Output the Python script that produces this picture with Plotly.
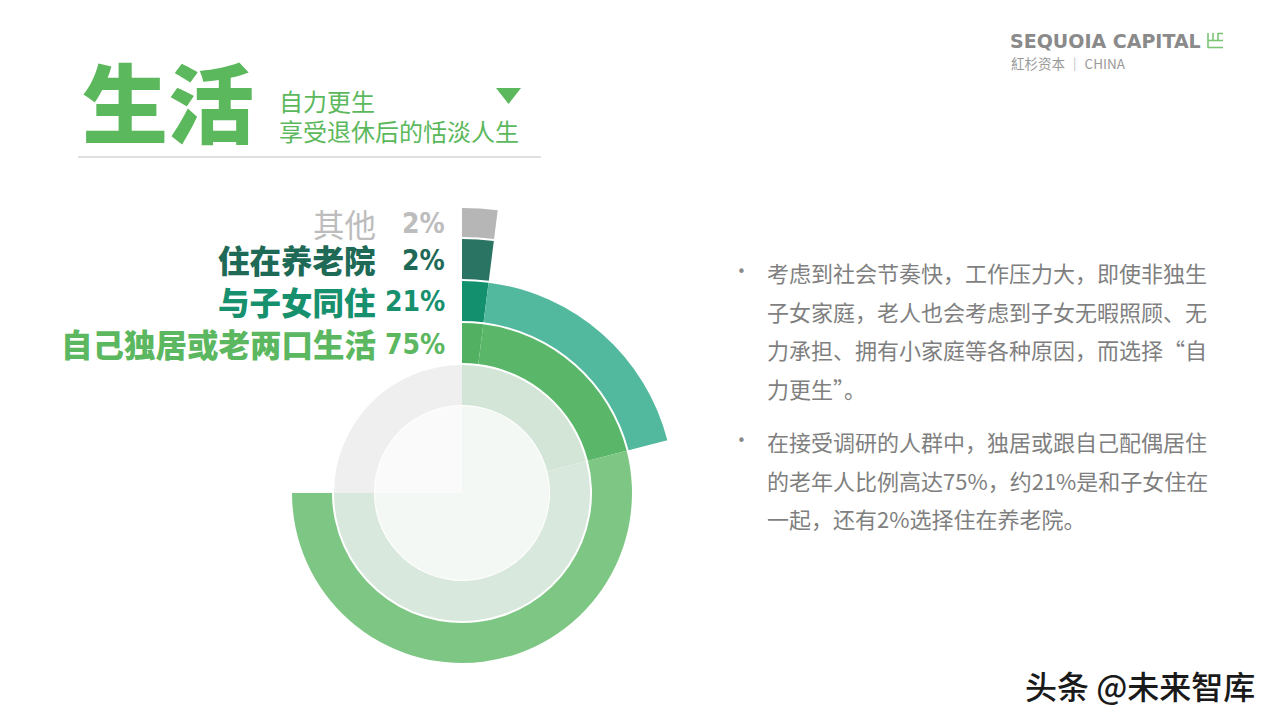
import subprocess
import plotly.graph_objects as go

# ---------------- data ----------------
categories = ["自己独居或老两口生活", "与子女同住", "住在养老院", "其他"]
values = [75, 21, 2, 2]
pct_labels = ["75%", "21%", "2%", "2%"]

title_text = "生活"
subtitle_lines = ["自力更生", "享受退休后的恬淡人生"]
para1 = ["考虑到社会节奏快，工作压力大，即使非独生",
         "子女家庭，老人也会考虑到子女无暇照顾、无",
         "力承担、拥有小家庭等各种原因，而选择“自",
         "力更生”。"]
para2 = ["在接受调研的人群中，独居或跟自己配偶居住",
         "的老年人比例高达75%，约21%是和子女住在",
         "一起，还有2%选择住在养老院。"]

# ---------------- style ----------------
W, H = 1280, 720
CX, CY = 462, 493          # chart centre in page px
R1 = 227                   # full-circle polar radius (px)
R2 = 290                   # quarter-sector polar radius (px)
ring_inner = [130, 172, 214, 256]
ring_outer = [170, 212, 254, 285]
seg_colors = [["#51b062", "#5ab76a", "#7dc683"],
              ["#13906e", "#52b89e"],
              ["#2a7464"],
              ["#b6b6b6"]]
label_colors = ["#5bb760", "#17906e", "#1e6a56", "#bdbdbd"]
inner_B = (88, 128)
inner_A = (0, 87)
B_colors = ["#d3e5d6", "#d9e8dc", "#efefef"]
A_colors = ["#f4f8f4", "#fafafa"]
GREEN = "#5cb85c"
CJK = "Noto Sans CJK SC"

try:
    fams = subprocess.run(["fc-list", ":", "family"], capture_output=True, text=True).stdout
except Exception:
    fams = ""
if "Liberation Sans Narrow" in fams:
    PCT_FONT, PCT_SIZE = "Liberation Sans Narrow", 33
elif "DejaVu Sans Condensed" in fams:
    PCT_FONT, PCT_SIZE = "DejaVu Sans Condensed", 28
else:
    PCT_FONT, PCT_SIZE = "Roboto", 30

fig = go.Figure()


def add_arc(start, end, r0, r1, color, subplot):
    fig.add_trace(go.Barpolar(
        theta=[(start + end) / 2 * 3.6], width=[(end - start) * 3.6],
        r=[r1 - r0], base=[r0], subplot=subplot,
        marker=dict(color=color, line=dict(width=0)),
        hoverinfo="skip", showlegend=False))


# inner background rings (split by the values)
bounds_A = [0, values[0], 100]
for k in range(2):
    add_arc(bounds_A[k], bounds_A[k + 1], inner_A[0], inner_A[1], A_colors[k], "polar")
bounds_B = [0, values[1], values[0], 100]
for k in range(3):
    add_arc(bounds_B[k], bounds_B[k + 1], inner_B[0], inner_B[1], B_colors[k], "polar")

# data rings: widest ring in the full circle, the shorter ones in the quarter sector
for i, v in enumerate(values):
    smaller = sorted({values[j] for j in range(i + 1, len(values)) if values[j] < v})
    bnds = [0] + smaller + [v]
    sp = "polar" if ring_outer[i] <= R1 else "polar2"
    for k in range(len(bnds) - 1):
        add_arc(bnds[k], bnds[k + 1], ring_inner[i], ring_outer[i], seg_colors[i][k], sp)

fig.update_layout(
    width=W, height=H, margin=dict(l=0, r=0, t=0, b=0),
    paper_bgcolor="white", plot_bgcolor="white",
    polar=dict(
        domain=dict(x=[(CX - R1) / W, (CX + R1) / W],
                    y=[(H - CY - R1) / H, (H - CY + R1) / H]),
        bgcolor="rgba(0,0,0,0)",
        radialaxis=dict(range=[0, R1], visible=False),
        angularaxis=dict(rotation=90, direction="clockwise", visible=False),
        barmode="overlay",
    ),
    polar2=dict(
        domain=dict(x=[CX / W, (CX + R2) / W],
                    y=[(H - CY) / H, (H - CY + R2) / H]),
        sector=[0, 90],
        bgcolor="rgba(0,0,0,0)",
        radialaxis=dict(range=[0, R2], visible=False),
        angularaxis=dict(rotation=90, direction="clockwise", visible=False),
        barmode="overlay",
    ),
)

ann = []


def px_y(y):
    return (H - y) / H


# category labels and percentages
for i, (c, p) in enumerate(zip(categories, pct_labels)):
    yc = CY - (ring_inner[i] + ring_outer[i]) / 2
    ann.append(dict(x=378 / W, y=px_y(yc), xref="paper", yref="paper", text=c,
                    xanchor="right", yanchor="middle", showarrow=False,
                    font=dict(family=CJK, size=31.5, color=label_colors[i],
                              weight=400 if i == 3 else 900)))
    ann.append(dict(x=447 / W, y=px_y(yc + 1), xref="paper", yref="paper", text=p,
                    xanchor="right", yanchor="middle", showarrow=False,
                    font=dict(family=PCT_FONT, size=PCT_SIZE, color=label_colors[i], weight=700)))

# title block
ann.append(dict(x=80 / W, y=px_y(100), xref="paper", yref="paper", text=title_text,
                xanchor="left", yanchor="middle", showarrow=False,
                font=dict(family=CJK, size=86, color=GREEN, weight=900)))
for k, t in enumerate(subtitle_lines):
    ann.append(dict(x=277 / W, y=px_y(101 + 29 * k), xref="paper", yref="paper", text=t,
                    xanchor="left", yanchor="middle", showarrow=False,
                    font=dict(family=CJK, size=24, color=GREEN, weight=400)))

# right paragraphs
TXT = "#7f7f7f"
for lines, y0 in ((para1, 272), (para2, 441)):
    ann.append(dict(x=741 / W, y=px_y(y0), xref="paper", yref="paper", text="•",
                    xanchor="center", yanchor="middle", showarrow=False,
                    font=dict(family="DejaVu Sans", size=15, color="#8a8a8a")))
    for k, t in enumerate(lines):
        ann.append(dict(x=765 / W, y=px_y(y0 + 38.5 * k), xref="paper", yref="paper", text=t,
                        xanchor="left", yanchor="middle", showarrow=False,
                        font=dict(family=CJK, size=22, color=TXT)))

# logo
ann.append(dict(x=1008 / W, y=px_y(41), xref="paper", yref="paper", text="SEQUOIA CAPITAL",
                xanchor="left", yanchor="middle", showarrow=False,
                font=dict(family="DejaVu Sans", size=19, color="#8a8a8a", weight=700)))
ann.append(dict(x=1009 / W, y=px_y(63), xref="paper", yref="paper", text="紅杉资本 │ CHINA",
                xanchor="left", yanchor="middle", showarrow=False,
                font=dict(family=CJK, size=13.5, color="#9a9a9a")))

# watermark
ann.append(dict(x=1257 / W, y=px_y(685), xref="paper", yref="paper", text="头条 @未来智库",
                xanchor="right", yanchor="middle", showarrow=False,
                font=dict(family=CJK, size=32, color="#1a1a1a", weight=500)))

LOGO = "#7cc576"
shapes = [
    dict(type="line", xref="paper", yref="paper", x0=78 / W, x1=541 / W,
         y0=px_y(157), y1=px_y(157), line=dict(color="#d6d6d6", width=1.5)),
    dict(type="path", xref="paper", yref="paper",
         path=f"M {496/W} {px_y(88)} L {521/W} {px_y(88)} L {508.5/W} {px_y(104)} Z",
         fillcolor=GREEN, line=dict(width=0)),
    # small logo mark
    dict(type="line", xref="paper", yref="paper", x0=1208 / W, x1=1208 / W,
         y0=px_y(33), y1=px_y(48), line=dict(color=LOGO, width=1.6)),
    dict(type="line", xref="paper", yref="paper", x0=1208 / W, x1=1223 / W,
         y0=px_y(47.5), y1=px_y(47.5), line=dict(color=LOGO, width=1.6)),
    dict(type="line", xref="paper", yref="paper", x0=1208 / W, x1=1223 / W,
         y0=px_y(40.5), y1=px_y(40.5), line=dict(color=LOGO, width=1.6)),
    dict(type="line", xref="paper", yref="paper", x0=1213 / W, x1=1213 / W,
         y0=px_y(33), y1=px_y(40.5), line=dict(color=LOGO, width=1.6)),
    dict(type="line", xref="paper", yref="paper", x0=1218 / W, x1=1218 / W,
         y0=px_y(33), y1=px_y(40.5), line=dict(color=LOGO, width=1.6)),
    dict(type="line", xref="paper", yref="paper", x0=1218 / W, x1=1223 / W,
         y0=px_y(33.5), y1=px_y(33.5), line=dict(color=LOGO, width=1.6)),
]

fig.update_layout(annotations=ann, shapes=shapes)
fig.write_html("out.html")
